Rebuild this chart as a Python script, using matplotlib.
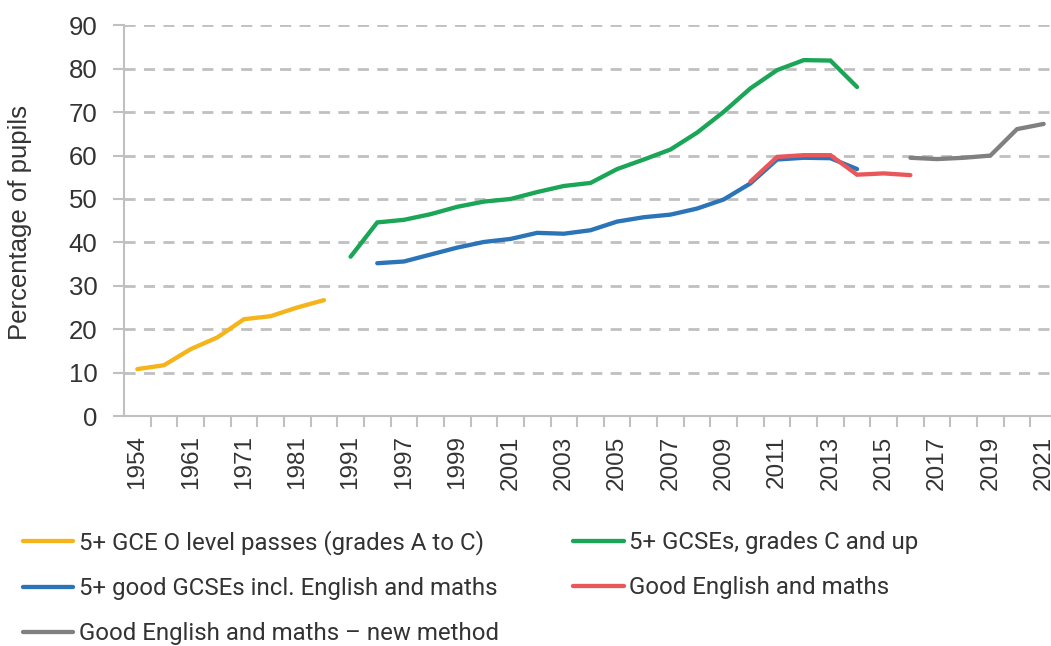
import matplotlib
matplotlib.use("Agg")
import matplotlib.pyplot as plt
import numpy as np

# Category labels (only every other one is shown on the axis)
years = ["1954", "1956", "1961", "1966", "1971", "1976", "1981", "1986", "1991", "1996",
         "1997", "1998", "1999", "2000", "2001", "2002", "2003", "2004", "2005", "2006",
         "2007", "2008", "2009", "2010", "2011", "2012", "2013", "2014", "2015", "2016",
         "2017", "2018", "2019", "2020", "2021"]

# Series values
o_level = [10.8, 11.7, 15.4, 18.1, 22.3, 23.0, 25.0, 26.7]                      # 1954..1986
gcse_c = [36.7, 44.6, 45.2, 46.5, 48.2, 49.4, 50.0, 51.6, 53.0, 53.7, 56.9,
          59.1, 61.4, 65.3, 70.1, 75.5, 79.7, 82.0, 81.9, 75.8]                 # 1991..2014
gcse_em = [35.2, 35.6, 37.2, 38.8, 40.1, 40.8, 42.2, 42.0, 42.8, 44.8, 45.8,
           46.4, 47.8, 49.9, 53.6, 59.1, 59.5, 59.4, 56.9]                      # 1996..2014
good_em = [54.0, 59.7, 60.1, 60.1, 55.6, 55.9, 55.5]                            # 2010..2016
good_em_new = [59.5, 59.2, 59.5, 60.0, 66.1, 67.3]                              # 2016..2021

series = [
    ("5+ GCE O level passes (grades A to C)", "1954", o_level, "#F4B41A"),
    ("5+ good GCSEs incl. English and maths", "1996", gcse_em, "#2B74B8"),
    ("Good English and maths \u2013 new method", "2016", good_em_new, "#808080"),
    ("5+ GCSEs, grades C and up", "1991", gcse_c, "#1BA557"),
    ("Good English and maths", "2010", good_em, "#E9575B"),
]
draw_order = [0, 3, 1, 4, 2]

GRID = "#c0c0c0"
TEXT = "#333333"

plt.rcParams["font.family"] = ["Liberation Sans", "DejaVu Sans"]

fig = plt.figure(figsize=(10.51, 6.46), dpi=100)
ax = fig.add_axes([124 / 1051, 1 - 416 / 646, 933 / 1051, 390.6 / 646])

x_all = np.arange(len(years))
handles = {}
for i in draw_order:
    label, start, vals, color = series[i]
    s = years.index(start)
    xs = x_all[s:s + len(vals)]
    (ln,) = ax.plot(xs, vals, color=color, lw=3.1, solid_capstyle="round",
                    solid_joinstyle="miter", label=label, zorder=3)
    handles[i] = ln

ax.set_xlim(-0.5, len(years) - 0.5)
ax.set_ylim(0, 90)
ax.set_yticks(np.arange(0, 91, 10))
ax.yaxis.grid(True, color=GRID, lw=2, ls=(0, (4, 3)))
ax.set_axisbelow(True)

ax.set_xticks(x_all)
ax.set_xticklabels([y if k % 2 == 0 else "" for k, y in enumerate(years)], rotation=90)
ax.set_xticks(x_all[:-1] + 0.5, minor=True)
ax.tick_params(axis="x", which="major", length=0, pad=14, labelsize=17.5, labelcolor=TEXT)
ax.tick_params(axis="x", which="minor", length=8, width=1.5, color=GRID)
ax.tick_params(axis="y", length=8, width=1.5, color=GRID, pad=11, labelsize=18.5,
               labelcolor=TEXT)

for side in ["top", "right"]:
    ax.spines[side].set_visible(False)
for side in ["left", "bottom"]:
    ax.spines[side].set_color(GRID)
    ax.spines[side].set_linewidth(1.5)

fig.text(20 / 1051, 1 - 222 / 646, "Percentage of pupils", rotation=90,
         ha="center", va="center", fontsize=18.5, color=TEXT)

leg = fig.legend([handles[i] for i in range(5)], [s[0] for s in series],
                 loc="upper left", bbox_to_anchor=(23 / 1051, 1 - 530 / 646),
                 ncol=2, frameon=False, borderpad=0, borderaxespad=0,
                 handlelength=2.1, handletextpad=0.22, columnspacing=3.1,
                 labelspacing=0.92, prop={"family": "Roboto", "size": 17.3})
for t in leg.get_texts():
    t.set_color(TEXT)

fig.savefig("out.png", dpi=100)
